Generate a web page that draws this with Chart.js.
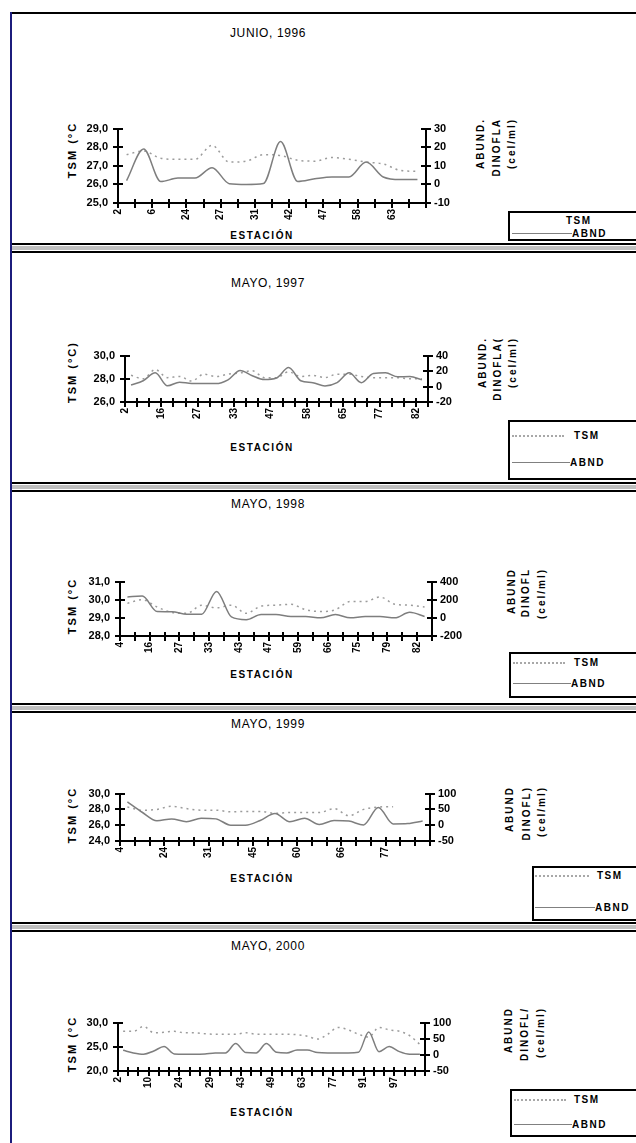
<!DOCTYPE html>
<html>
<head>
<meta charset="utf-8">
<script src="https://cdn.jsdelivr.net/npm/chart.js@4.4.1/dist/chart.umd.min.js"></script>
<style>
html,body{margin:0;padding:0;background:#fff;}
body{width:636px;height:1143px;position:relative;overflow:hidden;font-family:"Liberation Sans",Arial,sans-serif;color:#000;}
.blk{position:absolute;background:#000;}
.band{position:absolute;background:#c0c0c0;}
.ttl{position:absolute;font-size:12px;letter-spacing:0.6px;transform:translate(-50%,-50%);white-space:nowrap;}
.est{position:absolute;font-size:10px;font-weight:bold;letter-spacing:1.6px;transform:translate(-50%,-50%);white-space:nowrap;}
.vc{position:absolute;writing-mode:vertical-rl;transform:translate(-50%,-50%) rotate(180deg);white-space:nowrap;font-size:11px;font-weight:bold;letter-spacing:2px;line-height:12px;}
.vt{position:absolute;writing-mode:vertical-rl;transform:translateX(-50%) rotate(180deg);white-space:nowrap;font-size:10px;font-weight:bold;letter-spacing:2px;line-height:11px;}
.leg{position:absolute;border:2px solid #000;background:#fff;box-sizing:border-box;}
.lt{position:absolute;font-size:10px;font-weight:bold;letter-spacing:1.5px;transform:translateY(-50%);white-space:nowrap;}
.ls{position:absolute;height:0;border-top:1.5px solid #808080;}
.ld{position:absolute;height:0;border-top:2px dotted #a8a8a8;}
canvas{position:absolute;}
</style>
</head>
<body>
<script>
// ---------- DATA ----------
const cat96  = ['2','','6','','24','','27','','31','','42','','47','','58','','63',''];
const tsm96  = [27.6,27.8,27.4,27.35,27.35,28.1,27.2,27.25,27.6,27.55,27.3,27.25,27.45,27.35,27.2,27.1,26.75,26.7];
const abnd96 = [2,19,1.5,3.4,3.4,9,0.4,0,0.5,23,1.6,3,4,4,12,4,2.6,2.6];

const cat97  = ['2','','','16','','','27','','','33','','','47','','','58','','','65','','','77','','','82'];
const tsm97  = [28.3,28.0,28.8,28.1,28.2,27.8,28.4,28.2,28.4,28.5,28.7,28.1,28.1,28.6,28.2,28.3,28.1,28.4,28.4,28.2,28.1,28.1,28.1,28.0,28.0];
const abnd97 = [2,7.5,17.7,1,5.7,4,4,3.8,8.7,20.8,14,9,11,24.5,7.5,5,0.8,5,17.7,5,17,17.7,12.5,13,8.7];

const cat98  = ['4','','16','','27','','33','','43','','47','','59','','66','','75','','79','','82'];
const tsm98  = [29.8,30.0,29.6,29.3,29.25,29.7,29.55,29.7,29.25,29.65,29.7,29.75,29.45,29.35,29.45,29.9,29.9,30.15,29.75,29.7,29.6];
const abnd98 = [231,240,70,68,40,40,292,10,-20,37,37,15,15,0,37,0,15,15,0,61,15];

const cat99  = ['4','','','24','','','31','','','45','','','60','','','66','','','77','',''];
const tsm99  = [28.3,27.9,28.0,28.4,28.1,27.9,27.9,27.7,27.75,27.75,27.5,27.6,27.6,27.6,28.1,27.2,28.0,28.3,28.35,null,null];
const abnd99 = [74,41,14,20,11,22,20,0,0,15,37,11,22,2,15,13,1,56,4,5,13];

const cat00  = ['2','','','10','','','24','','','29','','','43','','','49','','','63','','','77','','','91','','','97','',''];
const tsm00  = [28.2,28.2,29.2,27.9,28.0,28.2,27.9,27.9,27.7,27.6,27.6,27.6,27.9,27.6,27.6,27.6,27.6,27.5,27.2,26.6,27.6,29.0,28.5,27.6,27.0,29.0,28.5,28.2,27.3,25.5];
const abnd00 = [14,6,2,12,26,3,2,2,3,6,6,35,7,6,35,8,6,15,15,7,6,6,6,8,71,10,26,10,2,2];

const titles = ['JUNIO, 1996','MAYO, 1997','MAYO, 1998','MAYO, 1999','MAYO, 2000'];
const leftTitles = ['TSM (°C','TSM (°C)','TSM (°C','TSM (°C','TSM (°C'];
const rightTitles = [
  ['ABUND.','DINOFLA','(cel/ml)'],
  ['ABUND.','DINOFLA(','(cel/ml)'],
  ['ABUND','DINOFL','(cel/ml)'],
  ['ABUND','DINOFL)','(cel/ml)'],
  ['ABUND','DINOFL/','(cel/ml)']
];
const tsmTicks  = [[25,29,1],[26,30,2],[28,31,1],[24,30,2],[20,30,5]];
const abndTicks = [[-10,30,10],[-20,40,20],[-200,400,200],[-50,100,50],[-50,100,50]];

// ---------- LAYOUT ----------
const panels = [
  {cats:cat96,tsm:tsm96,abnd:abnd96,L:118,R:426,T:124,B:203,title:33,est:235,lc:150,rx:[480,496,511],rt:118,
   leg:{x:508,t:211,b:241,r1:220,r2:233,dot:false,lx:512,lw:54,tx:566}},
  {cats:cat97,tsm:tsm97,abnd:abnd97,L:125,R:428,T:351,B:402,title:283,est:447,lc:372,rx:[482,497,512],rt:337,
   leg:{x:508,t:420,b:480,r1:435,r2:462,dot:true,lx:512,lw:52,tx:574}},
  {cats:cat98,tsm:tsm98,abnd:abnd98,L:120,R:432,T:577,B:636,title:504,est:674,lc:606,rx:[511,525,541],rt:568,
   leg:{x:509,t:652,b:698,r1:662,r2:683,dot:true,lx:513,lw:52,tx:574}},
  {cats:cat99,tsm:tsm99,abnd:abnd99,L:120,R:430,T:789,B:841,title:724,est:878,lc:815,rx:[509,526,541],rt:786,
   leg:{x:532,t:866,b:921,r1:875,r2:907,dot:true,lx:535,lw:54,tx:597}},
  {cats:cat00,tsm:tsm00,abnd:abnd00,L:118,R:425,T:1018,B:1071,title:946,est:1112,lc:1044,rx:[508,524,540],rt:1007,
   leg:{x:510,t:1089,b:1137,r1:1099,r2:1124,dot:true,lx:514,lw:52,tx:574}}
];
const separators = [243,482,703,922];

function el(tag, cls, css, text){
  const e=document.createElement(tag); if(cls) e.className=cls;
  Object.assign(e.style, css||{}); if(text!==undefined) e.textContent=text;
  document.body.appendChild(e); return e;
}
el('div','blk',{left:'10px',top:'12px',width:'2px',height:'1131px',background:'#1c1c7c'});
el('div','blk',{left:'12px',top:'12px',width:'624px',height:'2px'});
separators.forEach(y=>{
  el('div','blk',{left:'12px',top:y+'px',width:'624px',height:'2px'});
  el('div','band',{left:'12px',top:(y+3)+'px',width:'624px',height:'4px'});
  el('div','blk',{left:'12px',top:(y+8)+'px',width:'624px',height:'2px'});
});

const crossTicks = {
  id:'crossTicks',
  afterDraw(chart){
    const ctx=chart.ctx, a=chart.chartArea;
    ctx.save(); ctx.strokeStyle='#000'; ctx.lineWidth=2;
    const seg=(x1,y1,x2,y2)=>{ctx.beginPath();ctx.moveTo(x1,y1);ctx.lineTo(x2,y2);ctx.stroke();};
    const xs=chart.scales.x, n=chart.data.labels.length;
    for(let i=0;i<=n;i++){ const px=Math.round(xs.getPixelForValue(i-0.5)); seg(px,a.bottom-4,px,a.bottom+5); }
    [['y',a.left],['y1',a.right]].forEach(([id,x])=>{
      const s=chart.scales[id];
      s.ticks.forEach(t=>{ const py=Math.round(s.getPixelForValue(t.value)); seg(x-5,py,x+5,py); });
    });
    ctx.restore();
  }
};

const tickFont={family:'"Liberation Sans", Arial, sans-serif',size:11,weight:'bold'};

panels.forEach((p,k)=>{
  el('div','ttl',{left:'268px',top:p.title+'px'},titles[k]);
  el('div','est',{left:'262px',top:p.est+'px'},'ESTACIÓN');
  el('div','vc',{left:'72px',top:p.lc+'px'},leftTitles[k]);
  rightTitles[k].forEach((t,j)=>el('div','vt',{left:p.rx[j]+'px',top:p.rt+'px'},t));
  const g=p.leg;
  el('div','leg',{left:g.x+'px',top:g.t+'px',width:(650-g.x)+'px',height:(g.b-g.t)+'px'});
  if(g.dot) el('div','ld',{left:g.lx+'px',top:g.r1+'px',width:g.lw+'px'});
  el('div','lt',{left:g.tx+'px',top:g.r1+'px'},'TSM');
  el('div','ls',{left:g.lx+'px',top:g.r2+'px',width:(g.lw+6)+'px'});
  el('div','lt',{left:(g.lx+g.lw+6)+'px',top:g.r2+'px'},'ABND');

  const cv=document.createElement('canvas');
  const W=p.R-p.L+100, H=p.B-p.T+44;
  cv.width=W; cv.height=H;
  Object.assign(cv.style,{left:(p.L-60)+'px',top:(p.T-12)+'px',width:W+'px',height:H+'px'});
  document.body.appendChild(cv);
  const half=(p.R-p.L)/p.cats.length/2;
  const [a0,a1,as]=tsmTicks[k], [b0,b1,bs]=abndTicks[k];
  const axisCommon={grid:{display:true,drawOnChartArea:false,drawTicks:false},border:{display:true,color:'#000',width:2}};
  new Chart(cv,{
    type:'line',
    data:{labels:p.cats,datasets:[
      {label:'ABND',data:p.abnd,yAxisID:'y1',borderColor:'#7e7e7e',borderWidth:1.5,pointRadius:0,cubicInterpolationMode:'monotone',tension:0.4},
      {label:'TSM',data:p.tsm,yAxisID:'y',borderColor:'#9c9c9c',borderWidth:1.5,borderDash:[2,4],pointRadius:0,cubicInterpolationMode:'monotone',tension:0.4,spanGaps:false}
    ]},
    options:{
      responsive:false,animation:false,devicePixelRatio:1,
      layout:{padding:{top:12,left:0,right:0,bottom:0}},
      plugins:{legend:{display:false},tooltip:{enabled:false},title:{display:false}},
      scales:{
        x:{type:'category',offset:true,...axisCommon,
           ticks:{autoSkip:false,minRotation:90,maxRotation:90,padding:6,labelOffset:-half,color:'#000',font:{...tickFont,size:10}},
           afterFit(s){s.height=32;}},
        y:{type:'linear',position:'left',min:a0,max:a1,...axisCommon,
           ticks:{autoSkip:false,stepSize:as,padding:10,color:'#000',font:tickFont,callback:v=>v.toFixed(1).replace('.',',')},
           afterFit(s){s.width=60;}},
        y1:{type:'linear',position:'right',min:b0,max:b1,...axisCommon,
           ticks:{autoSkip:false,stepSize:bs,padding:8,color:'#000',font:tickFont,callback:v=>String(v)},
           afterFit(s){s.width=40;}}
      }
    },
    plugins:[crossTicks]
  });
});
</script>
</body>
</html>
